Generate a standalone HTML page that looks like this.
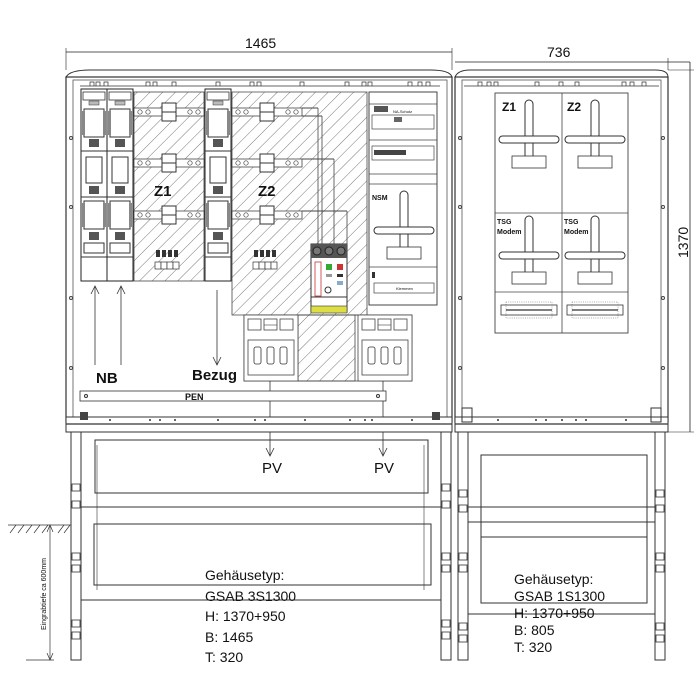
<!DOCTYPE html>
<html><head><meta charset="utf-8"><style>
html,body{margin:0;padding:0;background:#fff}
svg{display:block}
text{font-family:"Liberation Sans",Arial,sans-serif;fill:#111}
</style></head><body>
<svg width="700" height="700" viewBox="0 0 700 700" xmlns="http://www.w3.org/2000/svg">
<defs>
<pattern id="h" width="9" height="9" patternUnits="userSpaceOnUse" patternTransform="rotate(45)">
<line x1="0" y1="0" x2="0" y2="9" stroke="#555" stroke-width="0.8"/>
</pattern>
<g id="fuse">
<rect x="0" y="0" width="26" height="192" fill="#fff" stroke="#222" stroke-width="1"/>
<rect x="2" y="3" width="22" height="8" fill="#fff" stroke="#333" stroke-width="0.8"/>
<rect x="8" y="12" width="10" height="4" fill="#bbb" stroke="#333" stroke-width="0.5"/>
<rect x="3" y="20" width="20" height="28" fill="#fff" stroke="#333" stroke-width="1"/>
<rect x="1" y="22" width="3" height="24" fill="#888"/><rect x="22" y="22" width="3" height="24" fill="#888"/>
<rect x="8" y="50" width="10" height="8" fill="#555"/>
<line x1="0" y1="62" x2="26" y2="62" stroke="#333"/>
<rect x="5" y="68" width="16" height="26" fill="#fff" stroke="#333" stroke-width="1"/>
<rect x="8" y="97" width="10" height="8" fill="#555"/>
<line x1="0" y1="108" x2="26" y2="108" stroke="#333"/>
<rect x="3" y="112" width="20" height="28" fill="#fff" stroke="#333" stroke-width="1"/>
<rect x="1" y="114" width="3" height="24" fill="#888"/><rect x="22" y="114" width="3" height="24" fill="#888"/>
<rect x="8" y="143" width="10" height="8" fill="#555"/>
<rect x="3" y="154" width="20" height="10" fill="#fff" stroke="#333" stroke-width="1"/>
<line x1="0" y1="168" x2="26" y2="168" stroke="#333"/>
</g>
<g id="rail">
<rect x="0" y="-4" width="70" height="8" fill="#fff" stroke="#444" stroke-width="0.8"/>
<circle cx="6" cy="0" r="2.2" fill="none" stroke="#444" stroke-width="0.7"/><circle cx="14" cy="0" r="2.2" fill="none" stroke="#444" stroke-width="0.7"/>
<circle cx="56" cy="0" r="2.2" fill="none" stroke="#444" stroke-width="0.7"/><circle cx="64" cy="0" r="2.2" fill="none" stroke="#444" stroke-width="0.7"/>
<rect x="28" y="-9" width="14" height="18" fill="#fff" stroke="#333" stroke-width="1"/>
<line x1="28" y1="0" x2="42" y2="0" stroke="#333"/>
</g>
<g id="meter">
<rect x="-4" y="0" width="8" height="64" rx="4" fill="#fff" stroke="#333" stroke-width="1"/>
<rect x="-30" y="36" width="60" height="7" rx="3.5" fill="#fff" stroke="#333" stroke-width="1"/>
<rect x="-17" y="56" width="34" height="12" fill="#fff" stroke="#333" stroke-width="0.8"/>
</g>
<g id="box3">
<rect x="0" y="0" width="54" height="66" fill="#fff" stroke="#444" stroke-width="0.8"/>
<rect x="4" y="4" width="13" height="11" fill="none" stroke="#444" stroke-width="0.8"/>
<rect x="20" y="4" width="13" height="11" fill="none" stroke="#444" stroke-width="0.8"/>
<line x1="20" y1="10" x2="33" y2="10" stroke="#444" stroke-width="0.6"/>
<rect x="36" y="4" width="13" height="11" fill="none" stroke="#444" stroke-width="0.8"/>
<rect x="4" y="25" width="46" height="35" fill="none" stroke="#444" stroke-width="0.8"/>
<rect x="10" y="32" width="7" height="17" rx="2" fill="none" stroke="#333" stroke-width="0.8"/>
<rect x="23" y="32" width="7" height="17" rx="2" fill="none" stroke="#333" stroke-width="0.8"/>
<rect x="36" y="32" width="7" height="17" rx="2" fill="none" stroke="#333" stroke-width="0.8"/>
</g>
</defs>

<!-- top dimensions -->
<line x1="66" y1="52" x2="452" y2="52" stroke="#222" stroke-width="0.8"/>
<line x1="66" y1="48" x2="66" y2="70" stroke="#222" stroke-width="0.6"/>
<line x1="452" y1="48" x2="452" y2="70" stroke="#222" stroke-width="0.6"/>
<text x="245" y="48" font-size="14">1465</text>
<line x1="455" y1="62" x2="690" y2="62" stroke="#222" stroke-width="0.8"/>
<line x1="668" y1="58" x2="668" y2="70" stroke="#222" stroke-width="0.6"/>
<text x="547" y="57" font-size="14">736</text>
<line x1="690" y1="62" x2="690" y2="432" stroke="#222" stroke-width="0.8"/>
<line x1="668" y1="70" x2="694" y2="70" stroke="#222" stroke-width="0.6"/>
<line x1="668" y1="432" x2="694" y2="432" stroke="#222" stroke-width="0.6"/>
<text transform="translate(688,258) rotate(-90)" font-size="14">1370</text>

<!-- left cabinet -->
<path d="M66 77 Q70 70 90 70 L430 70 Q450 70 452 77 Z" fill="#fff" stroke="#333" stroke-width="1"/>
<rect x="66" y="77" width="386" height="345" fill="#fff" stroke="#333" stroke-width="1.2"/>
<rect x="73" y="80" width="374" height="337" fill="none" stroke="#555" stroke-width="0.8"/>
<line x1="80" y1="86" x2="440" y2="86" stroke="#333" stroke-width="0.8"/>
<path d="M90 86v-4h4v4 M96 86v-4h4v4 M104 86v-4h4v4 M146 86v-4h4v4 M153 86v-4h4v4 M172 86v-4h4v4 M216 86v-4h4v4 M250 86v-4h4v4 M257 86v-4h4v4 M300 86v-4h4v4 M345 86v-4h4v4 M362 86v-4h4v4 M368 86v-4h4v4 M408 86v-4h4v4 M418 86v-4h4v4 M426 86v-4h4v4" fill="none" stroke="#333" stroke-width="0.7"/>
<circle cx="71" cy="138" r="1.5" fill="none" stroke="#444"/><circle cx="71" cy="207" r="1.5" fill="none" stroke="#444"/><circle cx="71" cy="298" r="1.5" fill="none" stroke="#444"/><circle cx="71" cy="368" r="1.5" fill="none" stroke="#444"/>

<!-- hatched zones -->
<rect x="134" y="92" width="70" height="189" fill="url(#h)" stroke="#444" stroke-width="0.8"/>
<path d="M232 92 H367 V315 H232 Z" fill="url(#h)" stroke="#444" stroke-width="0.8"/>
<rect x="298" y="315" width="57" height="66" fill="url(#h)" stroke="#444" stroke-width="0.8"/>

<use href="#fuse" x="81" y="89"/>
<use href="#fuse" x="107" y="89"/>
<use href="#fuse" x="205" y="89"/>

<use href="#rail" x="134" y="112"/><use href="#rail" x="134" y="163"/><use href="#rail" x="134" y="215"/>
<use href="#rail" x="232" y="112"/><use href="#rail" x="232" y="163"/><use href="#rail" x="232" y="215"/>
<line x1="302" y1="108" x2="318" y2="108" stroke="#444"/><line x1="318" y1="108" x2="318" y2="245" stroke="#444" stroke-width="0.8"/>
<line x1="302" y1="116" x2="322" y2="116" stroke="#444"/><line x1="322" y1="116" x2="322" y2="245" stroke="#444" stroke-width="0.8"/>
<line x1="302" y1="159" x2="334" y2="159" stroke="#444"/><line x1="334" y1="159" x2="334" y2="245" stroke="#444" stroke-width="0.8"/>
<line x1="302" y1="211" x2="347" y2="211" stroke="#444"/><line x1="347" y1="211" x2="347" y2="245" stroke="#444" stroke-width="0.8"/>

<text x="154" y="196" font-size="15" font-weight="bold">Z1</text>
<text x="258" y="196" font-size="15" font-weight="bold">Z2</text>
<g stroke="#333" stroke-width="0.7" fill="#fff">
<rect x="155" y="262" width="6" height="7"/><rect x="161" y="262" width="6" height="7"/><rect x="167" y="262" width="6" height="7"/><rect x="173" y="262" width="6" height="7"/>
<rect x="253" y="262" width="6" height="7"/><rect x="259" y="262" width="6" height="7"/><rect x="265" y="262" width="6" height="7"/><rect x="271" y="262" width="6" height="7"/>
</g>
<g fill="#333"><rect x="156" y="250" width="4" height="7"/><rect x="162" y="250" width="4" height="7"/><rect x="168" y="250" width="4" height="7"/><rect x="174" y="250" width="4" height="7"/>
<rect x="254" y="250" width="4" height="7"/><rect x="260" y="250" width="4" height="7"/><rect x="266" y="250" width="4" height="7"/><rect x="272" y="250" width="4" height="7"/></g>

<!-- right module column -->
<rect x="369" y="92" width="68" height="213" fill="#fff" stroke="#333" stroke-width="0.9"/>
<line x1="369" y1="104" x2="437" y2="104" stroke="#444" stroke-width="0.7"/>
<rect x="374" y="106" width="14" height="6" fill="#555"/>
<text x="393" y="113" font-size="4">NA-Schutz</text>
<rect x="372" y="115" width="62" height="14" fill="#fff" stroke="#444" stroke-width="0.7"/>
<rect x="394" y="117" width="8" height="5" fill="#666"/>
<line x1="369" y1="140" x2="437" y2="140" stroke="#444" stroke-width="0.7"/>
<rect x="372" y="146" width="62" height="14" fill="#fff" stroke="#444" stroke-width="0.7"/>
<rect x="374" y="150" width="32" height="5" fill="#444"/>
<line x1="369" y1="174" x2="437" y2="174" stroke="#444" stroke-width="0.7"/>
<line x1="369" y1="184" x2="437" y2="184" stroke="#444" stroke-width="0.7"/>
<text x="372" y="200" font-size="7" font-weight="bold">NSM</text>
<use href="#meter" x="404" y="191"/>
<line x1="369" y1="267" x2="437" y2="267" stroke="#444" stroke-width="0.7"/>
<rect x="372" y="272" width="3" height="6" fill="#333"/>
<rect x="374" y="283" width="60" height="10" fill="#fff" stroke="#444" stroke-width="0.7"/>
<text x="396" y="290" font-size="4">Klemmen</text>

<!-- device -->
<rect x="311" y="244" width="36" height="68" fill="#fff" stroke="#333" stroke-width="1"/>
<rect x="311" y="244" width="36" height="14" fill="#555"/>
<circle cx="317" cy="251" r="4" fill="#777" stroke="#222"/><circle cx="329" cy="251" r="4" fill="#777" stroke="#222"/><circle cx="341" cy="251" r="4" fill="#777" stroke="#222"/>
<rect x="326" y="264" width="6" height="6" fill="#3a3"/><rect x="337" y="264" width="6" height="6" fill="#c33"/>
<rect x="315" y="262" width="6" height="34" fill="none" stroke="#c33" stroke-width="0.8"/>
<rect x="326" y="274" width="6" height="3" fill="#999"/><rect x="337" y="274" width="6" height="3" fill="#333"/>
<rect x="337" y="281" width="6" height="4" fill="#8ac" />
<circle cx="328" cy="290" r="3" fill="none" stroke="#333"/>
<line x1="311" y1="297" x2="347" y2="297" stroke="#333"/>
<rect x="311" y="306" width="36" height="7" fill="#dd4" stroke="#333" stroke-width="0.6"/>

<!-- lower boxes -->
<rect x="244" y="315" width="168" height="66" fill="none" stroke="#444" stroke-width="0.8"/>
<use href="#box3" x="244" y="315"/>
<use href="#box3" x="358" y="315"/>

<!-- arrows & labels -->
<g stroke="#333" stroke-width="0.8" fill="none">
<line x1="95" y1="365" x2="95" y2="286"/><path d="M91 294 L95 286 L99 294"/>
<line x1="121" y1="365" x2="121" y2="286"/><path d="M117 294 L121 286 L125 294"/>
<line x1="217" y1="290" x2="217" y2="365"/><path d="M213 357 L217 365 L221 357"/>
<line x1="270" y1="381" x2="270" y2="456"/><path d="M266 448 L270 456 L274 448"/>
<line x1="383" y1="381" x2="383" y2="456"/><path d="M379 448 L383 456 L387 448"/>
</g>
<text x="96" y="383" font-size="15" font-weight="bold">NB</text>
<text x="192" y="380" font-size="15" font-weight="bold">Bezug</text>
<rect x="80" y="391" width="306" height="10" fill="#fff" stroke="#333" stroke-width="0.8"/>
<circle cx="86" cy="396" r="1.5" fill="none" stroke="#333"/><circle cx="378" cy="396" r="1.5" fill="none" stroke="#333"/>
<text x="185" y="400" font-size="9" font-weight="bold">PEN</text>

<!-- base strip left -->
<rect x="66" y="417" width="386" height="15" fill="#fff" stroke="#333" stroke-width="1"/>
<line x1="66" y1="424" x2="452" y2="424" stroke="#333" stroke-width="1.2"/>
<rect x="80" y="412" width="8" height="8" fill="#444"/><rect x="432" y="412" width="8" height="8" fill="#444"/>
<g fill="#333"><circle cx="110" cy="420" r="1"/><circle cx="150" cy="420" r="1"/><circle cx="160" cy="420" r="1"/><circle cx="175" cy="420" r="1"/><circle cx="218" cy="420" r="1"/><circle cx="255" cy="420" r="1"/><circle cx="265" cy="420" r="1"/><circle cx="305" cy="420" r="1"/><circle cx="350" cy="420" r="1"/><circle cx="365" cy="420" r="1"/><circle cx="372" cy="420" r="1"/><circle cx="412" cy="420" r="1"/></g>

<!-- right cabinet -->
<path d="M455 77 Q458 70 470 70 L655 70 Q668 70 668 77 Z" fill="#fff" stroke="#333" stroke-width="1"/>
<rect x="455" y="77" width="213" height="345" fill="#fff" stroke="#333" stroke-width="1.2"/>
<rect x="462" y="80" width="199" height="337" fill="none" stroke="#555" stroke-width="0.8"/>
<line x1="464" y1="86" x2="659" y2="86" stroke="#333" stroke-width="0.8"/>
<path d="M478 86v-4h4v4 M487 86v-4h4v4 M494 86v-4h4v4 M535 86v-4h4v4 M559 86v-4h4v4 M575 86v-4h4v4 M622 86v-4h4v4 M630 86v-4h4v4 M642 86v-4h4v4" fill="none" stroke="#333" stroke-width="0.7"/>
<rect x="495" y="93" width="133" height="240" fill="#fff" stroke="#444" stroke-width="0.9"/>
<line x1="562" y1="93" x2="562" y2="333" stroke="#444" stroke-width="0.8"/>
<line x1="495" y1="213" x2="628" y2="213" stroke="#444" stroke-width="0.8"/>
<line x1="495" y1="292" x2="628" y2="292" stroke="#444" stroke-width="0.8"/>
<text x="502" y="111" font-size="12" font-weight="bold">Z1</text>
<text x="567" y="111" font-size="12" font-weight="bold">Z2</text>
<use href="#meter" x="529" y="100"/><use href="#meter" x="595" y="100"/>
<text x="497" y="224" font-size="7" font-weight="bold">TSG</text><text x="497" y="234" font-size="7" font-weight="bold">Modem</text>
<text x="564" y="224" font-size="7" font-weight="bold">TSG</text><text x="564" y="234" font-size="7" font-weight="bold">Modem</text>
<use href="#meter" x="529" y="216"/><use href="#meter" x="595" y="216"/>
<rect x="501" y="305" width="56" height="10" fill="#fff" stroke="#333" stroke-width="0.8"/>
<rect x="506" y="302" width="46" height="16" fill="none" stroke="#333" stroke-width="0.4" stroke-dasharray="1 1.2"/>
<rect x="567" y="305" width="56" height="10" fill="#fff" stroke="#333" stroke-width="0.8"/>
<rect x="572" y="302" width="46" height="16" fill="none" stroke="#333" stroke-width="0.4" stroke-dasharray="1 1.2"/>
<line x1="506" y1="310" x2="552" y2="310" stroke="#333" stroke-width="1.2"/><line x1="572" y1="310" x2="618" y2="310" stroke="#333" stroke-width="1.2"/>
<circle cx="460" cy="138" r="1.5" fill="none" stroke="#444"/><circle cx="460" cy="207" r="1.5" fill="none" stroke="#444"/><circle cx="460" cy="298" r="1.5" fill="none" stroke="#444"/><circle cx="460" cy="368" r="1.5" fill="none" stroke="#444"/>
<circle cx="663" cy="138" r="1.5" fill="none" stroke="#444"/><circle cx="663" cy="207" r="1.5" fill="none" stroke="#444"/><circle cx="663" cy="298" r="1.5" fill="none" stroke="#444"/><circle cx="663" cy="368" r="1.5" fill="none" stroke="#444"/>
<rect x="455" y="417" width="213" height="15" fill="#fff" stroke="#333" stroke-width="1"/>
<line x1="455" y1="424" x2="668" y2="424" stroke="#333" stroke-width="1.2"/>
<rect x="462" y="408" width="10" height="14" fill="none" stroke="#333"/><rect x="651" y="408" width="10" height="14" fill="none" stroke="#333"/>
<g fill="#333"><circle cx="498" cy="420" r="1"/><circle cx="536" cy="420" r="1"/><circle cx="546" cy="420" r="1"/><circle cx="562" cy="420" r="1"/><circle cx="576" cy="420" r="1"/><circle cx="586" cy="420" r="1"/><circle cx="626" cy="420" r="1"/></g>

<!-- left plinth -->
<g fill="none" stroke="#333" stroke-width="1">
<rect x="71" y="432" width="10" height="228"/><rect x="441" y="432" width="10" height="228"/>
<rect x="95" y="440" width="333" height="53"/><rect x="94" y="524" width="337" height="61"/>
<line x1="81" y1="507" x2="441" y2="507"/><line x1="81" y1="600" x2="441" y2="600"/>
<line x1="97" y1="445" x2="97" y2="590" stroke-width="0.6"/>
<line x1="424" y1="445" x2="424" y2="590" stroke-width="0.6"/>
<g stroke-width="0.8">
<rect x="72" y="484" width="8" height="7"/><rect x="72" y="501" width="8" height="7"/><rect x="72" y="553" width="8" height="7"/><rect x="72" y="565" width="8" height="7"/><rect x="72" y="620" width="8" height="7"/><rect x="72" y="632" width="8" height="7"/>
<rect x="442" y="484" width="8" height="7"/><rect x="442" y="501" width="8" height="7"/><rect x="442" y="553" width="8" height="7"/><rect x="442" y="565" width="8" height="7"/><rect x="442" y="620" width="8" height="7"/><rect x="442" y="632" width="8" height="7"/>
</g>
<!-- right plinth -->
<rect x="458" y="432" width="10" height="228"/><rect x="655" y="432" width="10" height="228"/>
<rect x="481" y="455" width="166" height="148"/>
<line x1="468" y1="507" x2="655" y2="507"/><line x1="468" y1="522" x2="655" y2="522"/><line x1="481" y1="537" x2="647" y2="537"/>
<line x1="468" y1="614" x2="655" y2="614"/>
<g stroke-width="0.8">
<rect x="459" y="490" width="8" height="7"/><rect x="459" y="505" width="8" height="7"/><rect x="459" y="553" width="8" height="7"/><rect x="459" y="565" width="8" height="7"/><rect x="459" y="623" width="8" height="7"/><rect x="459" y="635" width="8" height="7"/>
<rect x="656" y="490" width="8" height="7"/><rect x="656" y="505" width="8" height="7"/><rect x="656" y="553" width="8" height="7"/><rect x="656" y="565" width="8" height="7"/><rect x="656" y="623" width="8" height="7"/><rect x="656" y="635" width="8" height="7"/>
</g>
<!-- ground -->
<line x1="8" y1="525" x2="71" y2="525" stroke-width="0.8"/>
<path d="M10 533 L16 525 M18 533 L24 525 M26 533 L32 525 M34 533 L40 525 M42 533 L48 525 M58 533 L64 525 M64 533 L70 525" stroke-width="0.7"/>
<line x1="50" y1="525" x2="50" y2="660" stroke-width="0.7"/>
<path d="M47 532 L50 525 L53 532 M47 653 L50 660 L53 653" stroke-width="0.7"/>
<line x1="26" y1="660" x2="54" y2="660" stroke-width="0.8"/>
</g>
<text transform="translate(46,630) rotate(-90)" font-size="7">Eingrabtiefe ca 600mm</text>

<text x="262" y="473" font-size="15">PV</text>
<text x="374" y="473" font-size="15">PV</text>

<g font-size="14">
<text x="205" y="580">Gehäusetyp:</text>
<text x="205" y="601">GSAB 3S1300</text>
<text x="205" y="621">H: 1370+950</text>
<text x="205" y="642">B: 1465</text>
<text x="205" y="662">T: 320</text>
<text x="514" y="584">Gehäusetyp:</text>
<text x="514" y="601">GSAB 1S1300</text>
<text x="514" y="618">H: 1370+950</text>
<text x="514" y="635">B: 805</text>
<text x="514" y="652">T: 320</text>
</g>
</svg>
</body></html>
